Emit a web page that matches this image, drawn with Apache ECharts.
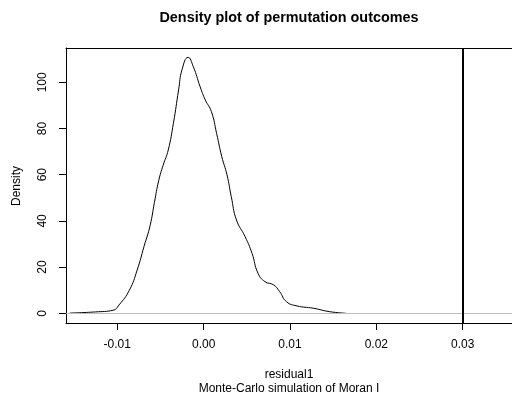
<!DOCTYPE html>
<html>
<head>
<meta charset="utf-8">
<script src="https://cdn.jsdelivr.net/npm/echarts@6/dist/echarts.min.js"></script>
<style>html,body{margin:0;padding:0;background:#fff;}#c{width:512px;height:396px;}</style>
</head>
<body>
<div id="c"></div>
<script>
var xValues = [-0.0155, -0.0125, -0.0105, -0.0098, -0.0086, -0.0077, -0.0069, -0.0062, -0.0057, -0.0052, -0.0047, -0.0041, -0.0035, -0.0029, -0.0025, -0.0018, -0.0012, -0.0004, 0.0002, 0.0009, 0.0015, 0.0021, 0.0027, 0.0032, 0.0038, 0.0048, 0.0056, 0.0063, 0.0071, 0.0081, 0.0088, 0.0096, 0.0108, 0.0127, 0.0146, 0.0165];
var densityValues = [0.1, 0.6, 1.3, 3.6, 10, 18.7, 29, 38, 48, 57.5, 64, 70.7, 82.3, 96.7, 105.5, 110.8, 106.8, 98, 92.3, 87.3, 77.9, 67.8, 60, 50.5, 40.4, 33.2, 26, 17.3, 13.7, 12.3, 9.4, 5, 3.2, 2.2, 0.7, 0];
var xTicks = [-0.01, 0.00, 0.01, 0.02, 0.03];
var yTicks = [0, 20, 40, 60, 80, 100];
var observedValue = 0.0309;
var titleText = 'Density plot of permutation outcomes';
var xLabel = 'residual1';
var subLabel = 'Monte-Carlo simulation of Moran I';
var yLabel = 'Density';

var points = xValues.map(function (x, i) { return [x, densityValues[i]]; });
var font = 'Liberation Sans, Arial, Helvetica, sans-serif';
var xMin = -0.01594, xMax = 0.03571;
var chart = echarts.init(document.getElementById('c'), null, {renderer: 'canvas'});
chart.setOption({
  animation: false,
  backgroundColor: '#ffffff',
  grid: {left: 66, right: 0, top: 48, bottom: 73, show: false},
  xAxis: [{
    type: 'value', min: xMin, max: xMax, position: 'bottom',
    splitLine: {show: false},
    axisLine: {show: true, onZero: false, lineStyle: {color: '#000', width: 1}},
    axisTick: {show: true, length: 7, inside: false, lineStyle: {color: '#000'}, customValues: xTicks},
    axisLabel: {show: true, margin: 16, color: '#000', fontSize: 12, fontFamily: font, customValues: xTicks,
      formatter: function (v) { return v.toFixed(2); }}
  }, {
    type: 'value', min: xMin, max: xMax, position: 'top',
    splitLine: {show: false},
    axisLine: {show: true, onZero: false, lineStyle: {color: '#000', width: 1}},
    axisTick: {show: false}, axisLabel: {show: false}
  }],
  yAxis: {
    type: 'value', min: -4.2, max: 114.85,
    splitLine: {show: false},
    axisLine: {show: true, onZero: false, lineStyle: {color: '#000', width: 1}},
    axisTick: {show: true, length: 7, inside: false, lineStyle: {color: '#000'}, customValues: yTicks},
    axisLabel: {show: true, margin: 17, rotate: 90, color: '#000', fontSize: 12, fontFamily: font, customValues: yTicks}
  },
  series: [{
    type: 'line',
    data: points,
    showSymbol: false,
    smooth: 0.5,
    lineStyle: {color: '#000', width: 1},
    z: 3,
    markLine: {
      silent: true,
      symbol: ['none', 'none'],
      label: {show: false},
      data: [
        {yAxis: 0, lineStyle: {color: '#bebebe', width: 1, type: 'solid'}},
        {xAxis: observedValue, lineStyle: {color: '#000', width: 2, type: 'solid'}}
      ]
    }
  }],
  graphic: [
    {type: 'text', x: 289, y: 18, style: {text: titleText, font: 'bold 14.4px ' + font, fill: '#000', textAlign: 'center', textVerticalAlign: 'middle'}},
    {type: 'text', x: 289, y: 375, style: {text: xLabel, font: '12px ' + font, fill: '#000', textAlign: 'center', textVerticalAlign: 'middle'}},
    {type: 'text', x: 289, y: 389, style: {text: subLabel, font: '12px ' + font, fill: '#000', textAlign: 'center', textVerticalAlign: 'middle'}},
    {type: 'text', x: 17, y: 186, rotation: Math.PI / 2, style: {text: yLabel, font: '12px ' + font, fill: '#000', textAlign: 'center', textVerticalAlign: 'middle'}}
  ]
});
</script>
</body>
</html>
